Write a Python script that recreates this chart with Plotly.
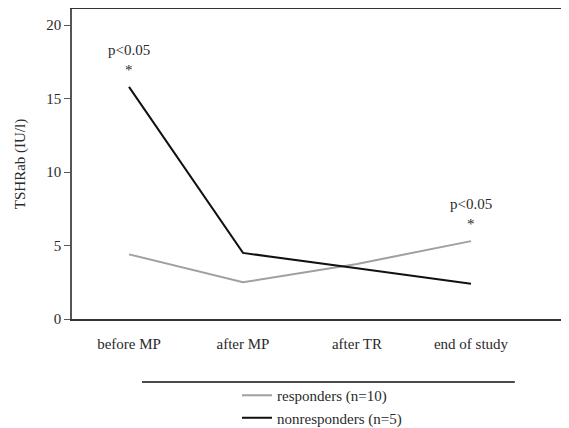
import plotly.graph_objects as go

categories = ["before MP", "after MP", "after TR", "end of study"]
responders = [4.4, 2.5, 3.75, 5.3]
nonresponders = [15.8, 4.5, 3.45, 2.4]
y_ticks = [0, 5, 10, 15, 20]
sig_categories = ["before MP", "end of study"]
sig_label = "p<0.05"

FONT = "Liberation Serif, Times New Roman, serif"
TXT = "#2a2a2a"

fig = go.Figure()
fig.add_trace(go.Scatter(x=categories, y=responders, mode="lines",
                         name="responders (n=10)",
                         line=dict(color="#a0a0a0", width=2)))
fig.add_trace(go.Scatter(x=categories, y=nonresponders, mode="lines",
                         name="nonresponders (n=5)",
                         line=dict(color="#111111", width=2)))

# significance markers
for cat, top in [(sig_categories[0], nonresponders[0]), (sig_categories[1], responders[-1])]:
    fig.add_annotation(x=cat, y=top + 1.15, text="*", showarrow=False,
                       font=dict(family=FONT, size=15, color=TXT))
    fig.add_annotation(x=cat, y=top + 2.5, text=sig_label, showarrow=False,
                       font=dict(family=FONT, size=15, color=TXT))

# separator line above legend
fig.add_shape(type="line", xref="paper", yref="paper",
              x0=0.1408, x1=0.891, y0=-0.203, y1=-0.203,
              line=dict(color="#111111", width=1.5))

# page body has an 8px margin; figure is sized to fill the remaining window
fig.update_layout(
    width=561, height=420,
    margin=dict(l=64, r=0, t=1, b=109, autoexpand=False),
    paper_bgcolor="white", plot_bgcolor="white",
    font=dict(family=FONT, size=15, color=TXT),
    showlegend=True,
    legend=dict(x=0.332, y=-0.371, xanchor="left", yanchor="bottom",
                orientation="v", bgcolor="rgba(0,0,0,0)",
                font=dict(family=FONT, size=15, color=TXT),
                tracegroupgap=0, itemwidth=30),
    xaxis=dict(type="category", categoryarray=categories, automargin=False,
               range=[-0.5, 3.86], showgrid=False, zeroline=False,
               showline=True, linecolor="#333333", linewidth=1.5, mirror=True,
               ticks="", ticklabelstandoff=10),
    yaxis=dict(range=[0, 21.1], tickvals=y_ticks, showgrid=False, zeroline=False,
               automargin=False,
               showline=True, linecolor="#555555", linewidth=1.5,
               ticks="outside", ticklen=6, tickcolor="#555555",
               title=dict(text="TSHRab (IU/l)", standoff=17,
                          font=dict(family=FONT, size=15, color=TXT))),
)

fig.write_html("out.html")
